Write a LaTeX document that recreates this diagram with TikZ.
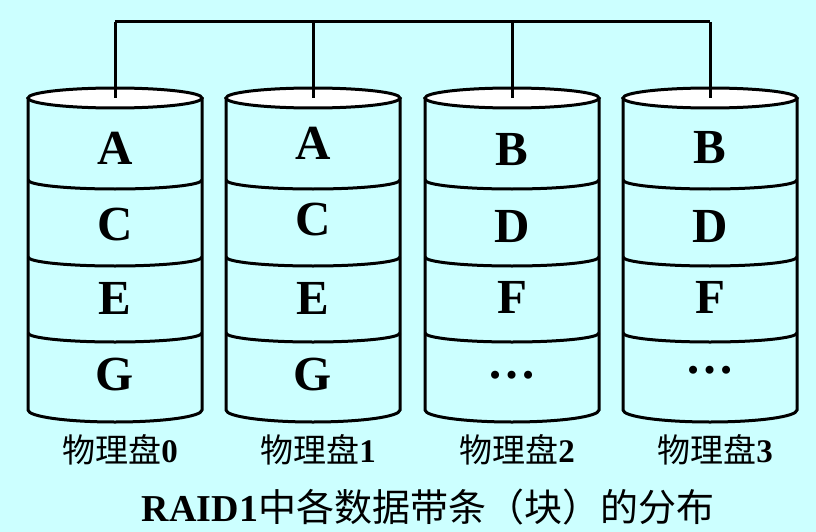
\documentclass[tikz,border=0pt]{standalone}
\usepackage{fontspec}
\setmainfont{Liberation Serif}
\newfontfamily\cjk{Noto Sans CJK SC}
\definecolor{bg}{RGB}{204,255,255}
\begin{document}
\begin{tikzpicture}[x=1pt,y=1pt,line width=3pt,
  letter/.style={font=\fontsize{49}{52}\selectfont\bfseries,inner sep=0pt},
  lab/.style={font=\fontsize{33}{36}\selectfont,inner sep=0pt},
  captext/.style={font=\fontsize{38}{42}\selectfont,inner sep=0pt},
  bus/.style={draw=black,line width=3pt}]
\fill[bg] (0,0) rectangle (816,-532);
\useasboundingbox (0,0) rectangle (816,-532);
\foreach \i/\cx/\la/\lb/\lc/\ld/\ya/\yb/\yc/\yd in {
  0/115/A/C/E/G/148/225/298/375,
  1/313/A/C/E/G/143/220/298/375,
  2/512/B/D/F/…/150/227/297/375,
  3/710/B/D/F/…/148/227/297/370}{
  \fill[bg] ({\cx-87},-98) -- ({\cx-87},-410) arc[start angle=180,end angle=360,x radius=87,y radius=12] -- ({\cx+87},-98) -- cycle;
  \draw ({\cx-87},-98) -- ({\cx-87},-410) arc[start angle=180,end angle=360,x radius=87,y radius=12] -- ({\cx+87},-98);
  \foreach \s in {180,257,333}{
    \draw ({\cx-87},-\s) arc[start angle=180,end angle=360,x radius=87,y radius=9];
  }
  \draw[fill=white] (\cx,-98) ellipse[x radius=87,y radius=10];
  \coordinate (t\i) at (\cx,-98);
  \coordinate (b\i) at (\cx,-22);
  \node[letter] (a\i) at (\cx,-\ya) {\la};
  \node[letter] (b\i l) at (\cx,-\yb) {\lb};
  \node[letter] (c\i) at (\cx,-\yc) {\lc};
  \node[letter] (d\i) at (\cx,-\yd) {\ld};
  \node[lab] (lab\i) at ({\cx+5},-450) {\cjk 物理盘{\rmfamily\bfseries\i}};
}
\draw[bus] (b0) -- (t0);
\draw[bus] (b1) -- (t1);
\draw[bus] (b2) -- (t2);
\draw[bus] (b3) -- (t3);
\draw[bus] (b0) -- (b3);
\node[captext] (caption) at (428,-507) {{\bfseries RAID1}{\cjk 中各数据带条（块）的分布}};
\end{tikzpicture}
\end{document}
